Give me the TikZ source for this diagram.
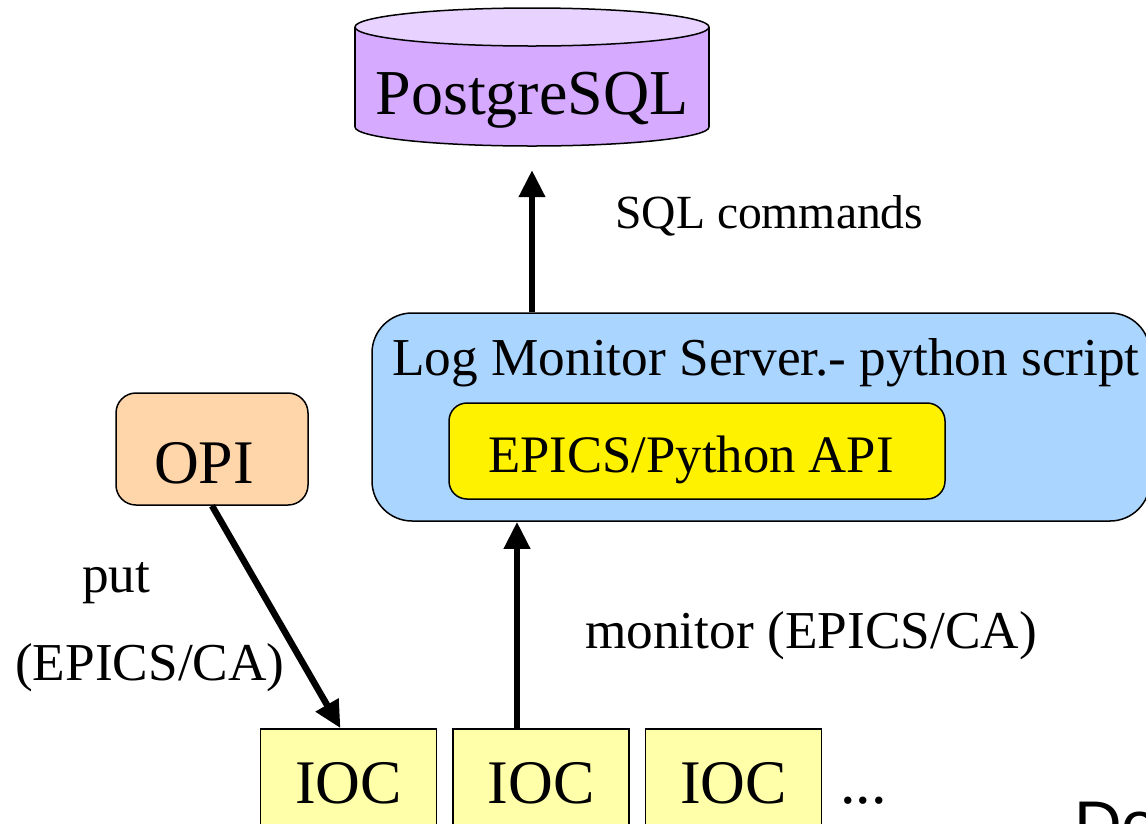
\documentclass[tikz,border=0pt]{standalone}
\usepackage{fontspec}
\setmainfont{Liberation Serif}
\newfontfamily\sansde{Liberation Sans}
\usetikzlibrary{arrows.meta,positioning}

\definecolor{pgbody}{RGB}{213,170,255}
\definecolor{pgtop}{RGB}{232,210,255}
\definecolor{lmsblue}{RGB}{170,213,255}
\definecolor{opipeach}{RGB}{255,213,170}
\definecolor{iocyellow}{RGB}{255,255,170}

\tikzset{
  box/.style={draw, line width=1.5pt, inner sep=0pt},
  iocbox/.style={box, fill=iocyellow, minimum width=176pt, minimum height=141pt},
  big/.style={inner sep=0pt, font=\fontsize{62}{70}\selectfont},
  mid/.style={inner sep=0pt, font=\fontsize{53.3}{60}\selectfont},
  flow/.style={line width=6.5pt, -{Triangle[length=27pt,width=25pt]}}
}

\begin{document}
\begin{tikzpicture}[x=1pt, y=-1pt]
    \useasboundingbox (0,0) rectangle (1146,823);
    \clip (0,0) rectangle (1146,823);

    % データベース
    \filldraw[fill=pgbody, line width=1.5pt] (532,127) ellipse [x radius=177, y radius=19];
    \fill[pgbody] (355,27) rectangle (709,127);
    \draw[line width=1.5pt] (355,27) -- (355,127);
    \draw[line width=1.5pt] (709,27) -- (709,127);
    \filldraw[fill=pgtop, line width=1.5pt] (532,27) ellipse [x radius=177, y radius=19];
    \node[inner sep=0pt, font=\fontsize{64}{70}\selectfont, anchor=base] (pg) at (532,114) {PostgreSQL};
    \coordinate (pgbot) at (532,146);

    % ボックス
    \node[box, fill=lmsblue, rounded corners=40pt, minimum width=778pt, minimum height=208pt] (lms) at (761,417) {};
    \node[box, fill=yellow, rounded corners=18pt, minimum width=496pt, minimum height=96pt] (api) at (697,451) {};
    \node[box, fill=opipeach, rounded corners=20pt, minimum width=192pt, minimum height=112pt] (opi) at (212,449) {};
    \node[iocbox] (ioc1) at (348.5,799.5) {};
    \node[iocbox, right=15pt of ioc1] (ioc2) {};
    \node[iocbox, right=15pt of ioc2] (ioc3) {};

    % テキスト
    \node[mid, anchor=base west] (lmstext) at (392,375) {Log Monitor Server.- python script};
    \node[inner sep=0pt, font=\fontsize{52.7}{58}\selectfont, anchor=base west] (apitext) at (488,472) {EPICS/Python API};
    \node[big, anchor=base] (opitext) at (204,483) {OPI};
    \node[big, anchor=base] (ioc1text) at (ioc1.center |- 0,803) {IOC};
    \node[big, anchor=base] (ioc2text) at (ioc2.center |- 0,803) {IOC};
    \node[big, anchor=base] (ioc3text) at (ioc3.center |- 0,803) {IOC};
    \node[big, anchor=base west] (dots) at (840,803) {...};
    \node[inner sep=0pt, font=\sansde\fontsize{66}{72}\selectfont, anchor=base west] (de) at (1074,847) {De};

    % ラベル
    \node[inner sep=0pt, font=\fontsize{47.6}{54}\selectfont, anchor=base west] (sql) at (615,228) {SQL commands};
    \node[mid, anchor=base west] (mon) at (585,648) {monitor (EPICS/CA)};
    \node[mid, anchor=base west] (put) at (82,592) {put};
    \node[mid, anchor=base west] (putca) at (15,680) {(EPICS/CA)};

    % 矢印
    \draw[flow, shorten >=24pt] (lms.north -| pgbot) -- (pgbot);
    \draw[flow] ([xshift=-24pt]ioc2.north) -- ([xshift=-24pt]ioc2.north |- lms.south);
    \draw[flow] (opi.south) -- ([xshift=-8pt]ioc1.north);
\end{tikzpicture}
\end{document}
